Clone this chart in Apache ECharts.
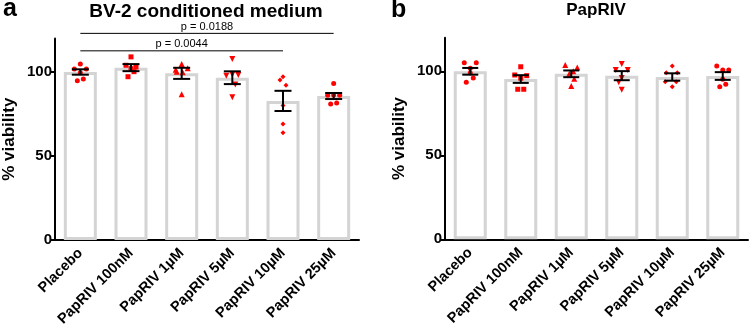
<!DOCTYPE html>
<html><head><meta charset="utf-8">
<script src="https://cdn.jsdelivr.net/npm/echarts@6/dist/echarts.min.js"></script>
<style>html,body{margin:0;padding:0;background:#fff}#c{width:749px;height:332px}</style>
</head><body><div id="c"></div>
<script>
// ---------- data ----------
const categories = ['Placebo', 'PapRIV 100nM', 'PapRIV 1µM', 'PapRIV 5µM', 'PapRIV 10µM', 'PapRIV 25µM'];
const yTicks = [0, 50, 100];
const yMax = 120;

const bvMeans = [100, 102.6, 99.2, 96.6, 82.8, 85.7];
const bvSem   = [1.6, 2.1, 3.3, 3.8, 6.0, 1.8];
const bvPoints = [
  [104.8, 101.8, 101.8, 99.5, 95.8, 94.8],
  [109.0, 104.0, 103.0, 102.0, 100.2, 97.2],
  [104.8, 102.2, 101.3, 100.2, 99.8, 86.7],
  [107.7, 98.5, 98.2, 97.8, 92.5, 84.9],
  [97.2, 95.2, 92.1, 80.0, 69.0, 63.9],
  [93.2, 86.3, 86.1, 86.1, 81.5, 81.0]
];

const papMeans = [100, 95.4, 98.5, 97.4, 96.6, 97.2];
const papSem   = [2.0, 2.3, 2.0, 2.7, 2.2, 2.3];
const papPoints = [
  [105.1, 105.1, 101.8, 99.0, 96.0, 93.5],
  [102.7, 97.8, 97.4, 95.9, 89.3, 89.3],
  [103.8, 102.2, 100.0, 98.5, 95.5, 91.3],
  [104.3, 100.8, 100.8, 96.0, 93.5, 89.0],
  [103.2, 99.2, 99.2, 93.8, 93.8, 90.8],
  [103.2, 100.8, 100.8, 95.3, 92.3, 90.8]
];

const sigFrom   = [0, 0];
const sigTo     = [5, 4];
const sigLevel  = [123, 112.6];
const sigLabels = ['p = 0.0188', 'p = 0.0044'];

// ---------- styles ----------
const FONT = 'Liberation Sans, Arial, Helvetica, sans-serif';
const symbols = ['circle', 'rect', 'triangle', 'path://M0,0L2,0L1,2Z', 'diamond', 'circle'];
const symbolSizes = [5, 5, 6, 6, 5, 5];
const jitterBV = [
  [0, -6, 6, 0, 3, -3],
  [0, -5, 5, 0, 3, -3],
  [0, 6, -6, -5, 1, 0],
  [0, 0, 6, -6, 3, 0],
  [0, -3, 3, 0, 0, 0],
  [0, 0, -6, 6, 3, -3]
];
const jitterPap = [
  [-6, 6, 0, 0, 3, -4],
  [0, -6, 6, 0, -3, 3],
  [-6, 6, 2, -2, 3, 0],
  [0, -6, 6, 0, -3, 0],
  [0, -6, 5, -7, 4, 0],
  [-6, 0, 6, 0, 3, -3]
];

function xAxisCfg(gi) {
  return {
    type: 'category', gridIndex: gi, data: categories, boundaryGap: true,
    axisLine: { lineStyle: { color: '#000', width: 2 } },
    axisTick: { alignWithLabel: true, length: 5, lineStyle: { color: '#000', width: 2 } },
    axisLabel: { rotate: 45, interval: 0, margin: 11, color: '#000', fontWeight: 'bold', fontSize: 14.5, fontFamily: FONT },
    splitLine: { show: false }
  };
}
function yAxisCfg(gi) {
  return {
    type: 'value', gridIndex: gi, min: 0, max: yMax,
    name: '% viability', nameLocation: 'middle', nameGap: 37,
    nameTextStyle: { color: '#000', fontWeight: 'bold', fontSize: 17, fontFamily: FONT },
    axisLine: { show: true, lineStyle: { color: '#000', width: 2 } },
    axisTick: { show: true, length: 5, customValues: yTicks, lineStyle: { color: '#000', width: 2 } },
    axisLabel: { customValues: yTicks, color: '#000', fontWeight: 'bold', fontSize: 15, fontFamily: FONT, margin: 3 },
    splitLine: { show: false }
  };
}

function panelSeries(gi, means, sem, points, jitter, capHalf) {
  const out = [];
  out.push({
    type: 'bar', xAxisIndex: gi, yAxisIndex: gi, data: means, barWidth: 33, z: 1,
    itemStyle: { color: '#fff', borderColor: '#d4d4d4', borderWidth: 3 },
    silent: true
  });
  points.forEach((grp, ci) => {
    out.push({
      type: 'scatter', xAxisIndex: gi, yAxisIndex: gi, z: 3,
      symbol: symbols[ci], symbolSize: symbolSizes[ci],
      itemStyle: { color: '#ff0000', opacity: 1 },
      data: grp.map((v, k) => ({ value: [ci, v], symbolOffset: [jitter[ci][k], 0] })),
      silent: true
    });
  });
  out.push({
    type: 'custom', xAxisIndex: gi, yAxisIndex: gi, z: 4,
    data: means.map((m, i) => [i, m, sem[i]]),
    encode: { x: 0, y: 1 },
    renderItem: function (params, api) {
      const x = api.value(0), m = api.value(1), s = api.value(2);
      const t = api.coord([x, m + s]), b = api.coord([x, m - s]);
      const st = { stroke: '#000', lineWidth: 2 };
      return {
        type: 'group', children: [
          { type: 'line', shape: { x1: t[0], y1: t[1], x2: b[0], y2: b[1] }, style: st },
          { type: 'line', shape: { x1: t[0] - capHalf, y1: t[1], x2: t[0] + capHalf, y2: t[1] }, style: st },
          { type: 'line', shape: { x1: b[0] - capHalf, y1: b[1], x2: b[0] + capHalf, y2: b[1] }, style: st }
        ]
      };
    },
    silent: true
  });
  return out;
}

const series = []
  .concat(panelSeries(0, bvMeans, bvSem, bvPoints, jitterBV, 8.5))
  .concat(panelSeries(1, papMeans, papSem, papPoints, jitterPap, 8));

series.push({
  type: 'custom', xAxisIndex: 0, yAxisIndex: 0, z: 5, clip: false,
  data: sigFrom.map((f, i) => [f, sigTo[i], sigLevel[i]]),
  encode: { x: [0, 1], y: 2 },
  renderItem: function (params, api) {
    const p0 = api.coord([api.value(0), api.value(2)]);
    const p1 = api.coord([api.value(1), api.value(2)]);
    return {
      type: 'group', children: [
        { type: 'line', shape: { x1: p0[0], y1: p0[1], x2: p1[0], y2: p1[1] }, style: { stroke: '#000', lineWidth: 1 } },
        { type: 'text', x: (p0[0] + p1[0]) / 2, y: p0[1] - 1,
          style: { text: sigLabels[params.dataIndex], fill: '#000', font: '11px ' + FONT, align: 'center', verticalAlign: 'bottom' } }
      ]
    };
  },
  silent: true
});

const chart = echarts.init(document.getElementById('c'), null, { renderer: 'canvas' });
chart.setOption({
  animation: false,
  backgroundColor: '#fff',
  grid: [
    { left: 54, top: 38.4, width: 305, height: 201.6 },
    { left: 445, top: 37.7, width: 303, height: 201.6 }
  ],
  xAxis: [xAxisCfg(0), xAxisCfg(1)],
  yAxis: [yAxisCfg(0), yAxisCfg(1)],
  series: series,
  graphic: [
    { type: 'text', x: 3, y: 22, style: { text: 'a', fill: '#000', font: 'bold 25px ' + FONT, verticalAlign: 'bottom' } },
    { type: 'text', x: 391, y: 23, style: { text: 'b', fill: '#000', font: 'bold 25px ' + FONT, verticalAlign: 'bottom' } },
    { type: 'text', x: 206, y: 21, style: { text: 'BV-2 conditioned medium', fill: '#000', font: 'bold 19px ' + FONT, align: 'center', verticalAlign: 'bottom' } },
    { type: 'text', x: 596, y: 19, style: { text: 'PapRIV', fill: '#000', font: 'bold 17px ' + FONT, align: 'center', verticalAlign: 'bottom' } }
  ]
});
</script>
</body></html>
